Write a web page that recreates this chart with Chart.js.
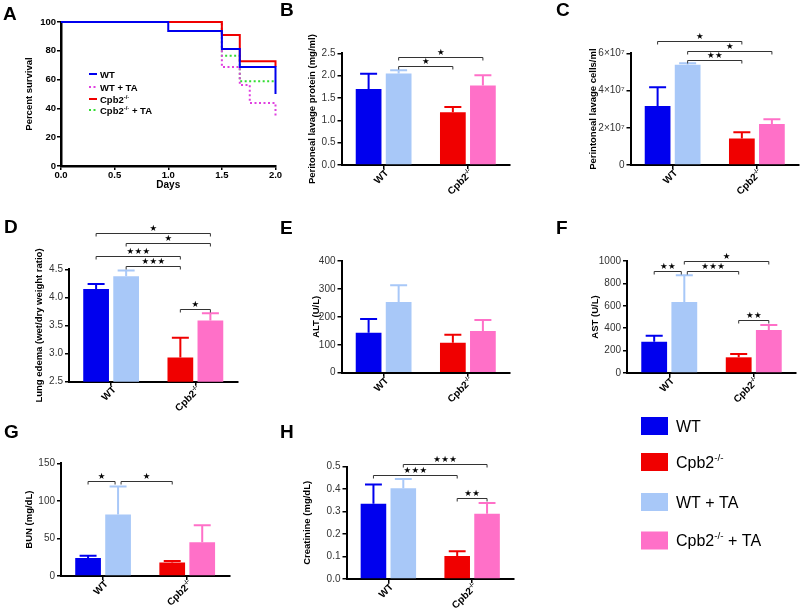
<!DOCTYPE html>
<html>
<head>
<meta charset="utf-8">
<script src="https://cdn.jsdelivr.net/npm/chart.js@4.4.0/dist/chart.umd.min.js"></script>
<style>
  body { margin: 0; background: #fff; }
  #wrap { position: relative; width: 800px; height: 611px; overflow: hidden; }
  canvas { position: absolute; left: 0; top: 0; }
</style>
</head>
<body>
<div id="wrap"></div>
<script>
// groups, in the order of the bars in each panel
const groups = ['WT', 'WT + TA', 'Cpb2-/-', 'Cpb2-/- + TA'];
const categories = ['WT', 'Cpb2-/-'];
const barColors = ['#0000ee', '#a8c8f8', '#f00000', '#ff70c8'];

// A - survival (days, percent)
const wtDays = [0, 1, 1.5, 1.667, 2];
const wtSurv = [100, 93.75, 81.25, 68.75, 50];
const wtTaDays = [0, 1.5, 1.667, 1.76, 2];
const wtTaSurv = [100, 68.75, 56.25, 43.75, 34];
const koDays = [0, 1.5, 1.667, 2];
const koSurv = [100, 90.9, 72.7, 69];
const koTaDays = [0, 1.5, 1.667, 2];
const koTaSurv = [100, 76.5, 58.8, 58.8];

// B - peritoneal lavage protein (mg/ml)
const proteinMean = [1.70, 2.05, 1.18, 1.78];
const proteinErr = [0.34, 0.07, 0.12, 0.23];
// C - peritoneal lavage cells/ml
const cellsMean = [3.17e7, 5.39e7, 1.43e7, 2.2e7];
const cellsErr = [1.01e7, 0.07e7, 0.33e7, 0.26e7];
// D - lung edema
const edemaMean = [4.15, 4.375, 2.93, 3.59];
const edemaErr = [0.09, 0.105, 0.35, 0.13];
// E - ALT
const altMean = [143, 253, 107, 149];
const altErr = [49, 60, 29, 40];
// F - AST
const astMean = [279, 634, 140, 384];
const astErr = [54, 238, 30, 45];
// G - BUN
const bunMean = [24, 82, 18, 45];
const bunErr = [3, 37, 2, 22.5];
// H - creatinine
const creatMean = [0.335, 0.404, 0.102, 0.291];
const creatErr = [0.086, 0.041, 0.021, 0.047];

// significance brackets: bar indices, height in axis units, number of stars
const proteinSig = [[1, 2, 2.22, 1], [1, 3, 2.41, 1]];
const cellsSig = [[0, 2, 6.68e7, 1], [1, 3, 6.13e7, 1], [1, 2, 5.65e7, 2]];
const edemaSig = [[0, 3, 5.14, 1], [1, 3, 4.97, 1], [0, 2, 4.74, 3], [1, 2, 4.55, 3], [2, 3, 3.80, 1]];
const astSig = [[0, 1, 911, 2], [1, 2, 911, 3], [1, 3, 1000, 1], [2, 3, 470, 2]];
const bunSig = [[0, 1, 126.5, 1], [1, 2, 126.5, 1]];
const creatSig = [[0, 2, 0.4615, 3], [1, 3, 0.51, 3], [2, 3, 0.359, 2]];

const FONT = '"Liberation Sans", Arial, Helvetica, sans-serif';
Chart.defaults.font.family = FONT;
Chart.defaults.color = '#222';
Chart.defaults.animation = false;
Chart.defaults.events = [];
Chart.defaults.plugins.legend.display = false;
Chart.defaults.plugins.tooltip.enabled = false;

const W = 800, H = 611;

function addCanvas() {
  const c = document.createElement('canvas');
  c.width = W; c.height = H;
  document.getElementById('wrap').appendChild(c);
  return c;
}

// text with a superscript "-/-"
function drawRich(ctx, label, x, y, size, weight, align) {
  const i = label.indexOf('-/-');
  const parts = i < 0 ? [{ t: label }] :
    [{ t: label.slice(0, i) }, { t: '-/-', sup: true }, { t: label.slice(i + 3) }].filter(p => p.t);
  const fonts = parts.map(p => `${weight} ${p.sup ? size * 0.62 : size}px ${FONT}`);
  const widths = parts.map((p, k) => { ctx.font = fonts[k]; return ctx.measureText(p.t).width; });
  const total = widths.reduce((a, b) => a + b, 0);
  let cx = align === 'right' ? x - total : align === 'center' ? x - total / 2 : x;
  ctx.textAlign = 'left';
  ctx.textBaseline = 'alphabetic';
  parts.forEach((p, k) => {
    ctx.font = fonts[k];
    ctx.fillText(p.t, cx, p.sup ? y - size * 0.42 : y);
    cx += widths[k];
  });
}

function drawStars(ctx, cx, cy, n) {
  ctx.font = '8.5px "DejaVu Sans", sans-serif';
  ctx.textAlign = 'center';
  ctx.textBaseline = 'middle';
  ctx.fillStyle = '#000';
  const gap = 8;
  for (let k = 0; k < n; k++) {
    ctx.fillText('\u2605', cx + (k - (n - 1) / 2) * gap, cy);
  }
}

function drawLetter(ctx, letter, x, y) {
  ctx.font = `bold 19px ${FONT}`;
  ctx.fillStyle = '#000';
  ctx.textAlign = 'left';
  ctx.textBaseline = 'alphabetic';
  ctx.fillText(letter, x, y);
}

function barEl(chart, i) {
  return chart.getDatasetMeta(i % 2).data[Math.floor(i / 2)];
}

function axisGrid() {
  return { display: true, drawOnChartArea: false, drawTicks: true, tickLength: 4, color: '#000', lineWidth: 1.5, offset: false };
}

function barChart(p) {
  const r = p.rect, yW = p.axisW, xH = 10;
  const sig = p.sig || [];
  // brackets meeting on the same bar at the same height get a small gap
  const shared = (k, bar) => sig.some((o, j) => j !== k && o[2] === sig[k][2] && (o[0] === bar || o[1] === bar));
  const extras = {
    id: 'extras' + p.letter,
    afterDraw(chart) {
      const ctx = chart.ctx, ys = chart.scales.y, xs = chart.scales.x;
      ctx.save();
      // error bars (upper only)
      for (let i = 0; i < 4; i++) {
        const el = barEl(chart, i);
        const top = ys.getPixelForValue(p.means[i] + p.errs[i]);
        const hw = el.width * 0.33;
        ctx.strokeStyle = barColors[i];
        ctx.lineWidth = 2;
        ctx.beginPath();
        ctx.moveTo(el.x, el.y);
        ctx.lineTo(el.x, top);
        ctx.moveTo(el.x - hw, top);
        ctx.lineTo(el.x + hw, top);
        ctx.stroke();
      }
      // brackets
      sig.forEach(([a, b, level, n], k) => {
        const x1 = barEl(chart, a).x + (shared(k, a) ? 3 : 0);
        const x2 = barEl(chart, b).x - (shared(k, b) ? 3 : 0);
        const yy = Math.round(ys.getPixelForValue(level)) + 0.5;
        ctx.strokeStyle = '#333';
        ctx.lineWidth = 1;
        ctx.beginPath();
        ctx.moveTo(x1, yy + 3);
        ctx.lineTo(x1, yy);
        ctx.lineTo(x2, yy);
        ctx.lineTo(x2, yy + 3);
        ctx.stroke();
        drawStars(ctx, (x1 + x2) / 2, yy - 4.5, n);
      });
      // rotated category labels
      ctx.fillStyle = '#000';
      categories.forEach((c, k) => {
        const tx = xs.getPixelForValue(k);
        ctx.save();
        ctx.translate(tx + 3, chart.chartArea.bottom + 6);
        ctx.rotate(-Math.PI / 4);
        drawRich(ctx, c, 0, 3.5, 10, 'bold', 'right');
        ctx.restore();
      });
      drawLetter(ctx, p.letter, p.lx, p.ly);
      if (p.after) p.after(ctx);
      ctx.restore();
    }
  };
  return new Chart(addCanvas(), {
    type: 'bar',
    data: {
      labels: categories,
      datasets: [
        { data: [p.means[0], p.means[2]], backgroundColor: [barColors[0], barColors[2]], categoryPercentage: 0.713, barPercentage: 0.857 },
        { data: [p.means[1], p.means[3]], backgroundColor: [barColors[1], barColors[3]], categoryPercentage: 0.713, barPercentage: 0.857 }
      ]
    },
    options: {
      responsive: false,
      layout: { padding: { left: r.l - yW, top: r.t, right: W - r.r, bottom: H - r.b - xH } },
      scales: {
        x: {
          grid: axisGrid(),
          border: { display: true, color: '#000', width: 2 },
          ticks: { display: false },
          afterFit: s => { s.height = xH; }
        },
        y: {
          min: p.min, max: p.max,
          ticks: { stepSize: p.step, font: { size: 10 }, color: '#333', padding: 2, callback: p.fmt },
          grid: axisGrid(),
          border: { display: true, color: '#000', width: 2 },
          title: { display: true, text: p.title, font: { size: 9.5, weight: 'bold' }, color: '#000', padding: 0 },
          afterFit: s => { s.width = yW; }
        }
      }
    },
    plugins: [extras]
  });
}

// ---------- A ----------
const pts = (xs, ys) => xs.map((x, i) => ({ x, y: ys[i] }));
const survSeries = [
  { label: groups[0], data: pts(wtDays, wtSurv), color: '#0000ee', dash: [] },
  { label: groups[2], data: pts(koDays, koSurv), color: '#f00000', dash: [] },
  { label: groups[1], data: pts(wtTaDays, wtTaSurv), color: '#e040e0', dash: [2, 2.5] },
  { label: groups[3], data: pts(koTaDays, koTaSurv), color: '#33dd33', dash: [2, 2.5] }
];
const rA = { l: 61, t: 22, r: 275.5, b: 166 };
new Chart(addCanvas(), {
  type: 'line',
  data: {
    datasets: survSeries.map(s => ({
      label: s.label, data: s.data, borderColor: s.color, borderDash: s.dash,
      borderWidth: 2, stepped: true, pointRadius: 0, fill: false, clip: false
    }))
  },
  options: {
    responsive: false,
    layout: { padding: { left: rA.l - 37.7, top: rA.t, right: W - rA.r, bottom: H - rA.b - 25 } },
    scales: {
      x: {
        type: 'linear', min: 0, max: 2,
        ticks: { stepSize: 0.5, font: { size: 9.5, weight: 'bold' }, color: '#000', padding: 0, callback: v => v.toFixed(1) },
        grid: axisGrid(),
        border: { display: true, color: '#000', width: 2.5 },
        title: { display: true, text: 'Days', font: { size: 10, weight: 'bold' }, color: '#000', padding: 0 },
        afterFit: s => { s.height = 25; }
      },
      y: {
        min: 0, max: 100,
        ticks: { stepSize: 20, font: { size: 9.5, weight: 'bold' }, color: '#000', padding: 1 },
        grid: axisGrid(),
        border: { display: true, color: '#000', width: 2.5 },
        title: { display: true, text: 'Percent survival', font: { size: 9.5, weight: 'bold' }, color: '#000', padding: 0 },
        afterFit: s => { s.width = 37.7; }
      }
    }
  },
  plugins: [{
    id: 'legendA',
    afterDraw(chart) {
      const ctx = chart.ctx;
      ctx.save();
      const order = [0, 2, 1, 3];
      const rows = [74, 87, 99, 110];
      order.forEach((di, k) => {
        const ds = chart.data.datasets[di];
        ctx.strokeStyle = ds.borderColor;
        ctx.lineWidth = 2;
        ctx.setLineDash(ds.borderDash);
        ctx.beginPath();
        ctx.moveTo(89, rows[k]);
        ctx.lineTo(97, rows[k]);
        ctx.stroke();
        ctx.setLineDash([]);
        ctx.fillStyle = '#000';
        drawRich(ctx, ds.label, 100, rows[k] + 3.5, 9.5, 'bold', 'left');
      });
      drawLetter(ctx, 'A', 3, 20);
      ctx.restore();
    }
  }]
});

// ---------- B-H ----------
const fmt1 = v => v.toFixed(1);
barChart({ letter: 'B', lx: 280, ly: 16, rect: { l: 341.5, t: 53.3, r: 510, b: 165 }, axisW: 34.4,
  means: proteinMean, errs: proteinErr, sig: proteinSig, min: 0, max: 2.5, step: 0.5, fmt: fmt1,
  title: 'Peritoneal lavage protein (mg/ml)' });
barChart({ letter: 'C', lx: 556, ly: 16, rect: { l: 630.5, t: 53.3, r: 799, b: 165 }, axisW: 42.7,
  means: cellsMean, errs: cellsErr, sig: cellsSig, min: 0, max: 6e7, step: 2e7,
  fmt: v => v === 0 ? '0' : (v / 1e7) + '\u00d710\u2077',
  title: 'Perintoneal lavage cells/ml' });
barChart({ letter: 'D', lx: 4, ly: 233, rect: { l: 69, t: 269.3, r: 237.5, b: 381.7 }, axisW: 35,
  means: edemaMean, errs: edemaErr, sig: edemaSig, min: 2.5, max: 4.5, step: 0.5, fmt: fmt1,
  title: 'Lung edema (wet/dry weight ratio)' });
barChart({ letter: 'E', lx: 280, ly: 234, rect: { l: 341.5, t: 261, r: 510, b: 372.7 }, axisW: 30.7,
  means: altMean, errs: altErr, sig: [], min: 0, max: 400, step: 100,
  title: 'ALT (U/L)' });
barChart({ letter: 'F', lx: 556, ly: 234, rect: { l: 627, t: 261, r: 796, b: 373 }, axisW: 37.7,
  means: astMean, errs: astErr, sig: astSig, min: 0, max: 1000, step: 200,
  title: 'AST (U/L)' });
barChart({ letter: 'G', lx: 4, ly: 438, rect: { l: 61, t: 463.3, r: 229.3, b: 576 }, axisW: 37.4,
  means: bunMean, errs: bunErr, sig: bunSig, min: 0, max: 150, step: 50,
  title: 'BUN (mg/dL)' });
barChart({ letter: 'H', lx: 280, ly: 438, rect: { l: 346.5, t: 466.7, r: 514, b: 579 }, axisW: 45,
  means: creatMean, errs: creatErr, sig: creatSig, min: 0, max: 0.5, step: 0.1, fmt: fmt1,
  title: 'Creatinine (mg/dL)',
  after: ctx => {
    // shared legend, bottom right
    const order = [0, 2, 1, 3];
    const rows = [426, 462, 502, 540.5];
    order.forEach((gi, k) => {
      ctx.fillStyle = barColors[gi];
      ctx.fillRect(641, rows[k] - 9, 27, 18);
      ctx.fillStyle = '#000';
      drawRich(ctx, groups[gi], 676, rows[k] + 5.5, 16, 'normal', 'left');
    });
  } });
</script>
</body>
</html>
